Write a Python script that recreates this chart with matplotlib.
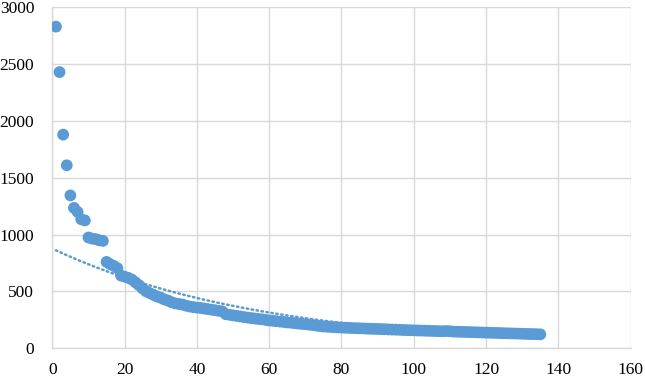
import numpy as np
import matplotlib
matplotlib.use("Agg")
import matplotlib.pyplot as plt

# values, one per rank 1..135
values = [
    2830, 2430, 1880, 1610, 1345, 1235, 1200, 1135, 1125, 975,
    965, 960, 950, 945, 760, 740, 725, 705, 640, 630,
    620, 605, 580, 555, 525, 500, 485, 470, 455, 445,
    430, 420, 405, 395, 390, 385, 375, 368, 362, 358,
    355, 350, 345, 340, 335, 330, 325, 300, 295, 290,
    285, 280, 275, 270, 266, 262, 258, 255, 250, 245,
    242, 238, 235, 232, 228, 225, 222, 218, 215, 212,
    208, 205, 200, 196, 192, 190, 188, 186, 184, 182,
    181, 180, 178, 177, 176, 175, 173, 172, 171, 170,
    169, 168, 166, 165, 164, 163, 161, 160, 159, 158,
    157, 156, 155, 154, 153, 152, 151, 150, 152, 150,
    147, 146, 145, 144, 143, 142, 141, 140, 139, 138,
    137, 136, 135, 134, 133, 132, 131, 130, 129, 128,
    127, 126, 125, 124, 123,
]
ranks = np.arange(1, len(values) + 1)

x_ticks = [0, 20, 40, 60, 80, 100, 120, 140, 160]
y_ticks = [0, 500, 1000, 1500, 2000, 2500, 3000]

blue = "#5B9BD5"
grid = "#D9D9D9"

plt.rcParams["font.family"] = ["Liberation Serif", "DejaVu Serif"]

fig = plt.figure(figsize=(6.45, 3.82), dpi=100)
ax = fig.add_axes([0.0811, 0.0882, 0.8967, 0.8927])

# exponential trendline (Excel style: fit on log y)
b, ln_a = np.polyfit(ranks, np.log(values), 1)
trend = np.exp(ln_a) * np.exp(b * ranks)
ax.plot(ranks, trend, color=blue, lw=1.8, linestyle=(0, (0.6, 1.4)),
        dash_capstyle="round", zorder=2)

ax.scatter(ranks, values, s=72, color=blue, edgecolors="none", zorder=3)

ax.set_xlim(0, 160)
ax.set_ylim(0, 3000)
ax.set_xticks(x_ticks)
ax.set_yticks(y_ticks)
ax.grid(True, color=grid, lw=1.0, zorder=0)
ax.set_axisbelow(True)
for side in ["top", "right"]:
    ax.spines[side].set_visible(False)
for side in ["left", "bottom"]:
    ax.spines[side].set_color(grid)
    ax.spines[side].set_linewidth(1.0)
ax.tick_params(axis="y", length=0, pad=13, labelsize=12.5)
ax.tick_params(axis="x", length=0, pad=10, labelsize=12.5)

fig.savefig("out.png", dpi=100)
